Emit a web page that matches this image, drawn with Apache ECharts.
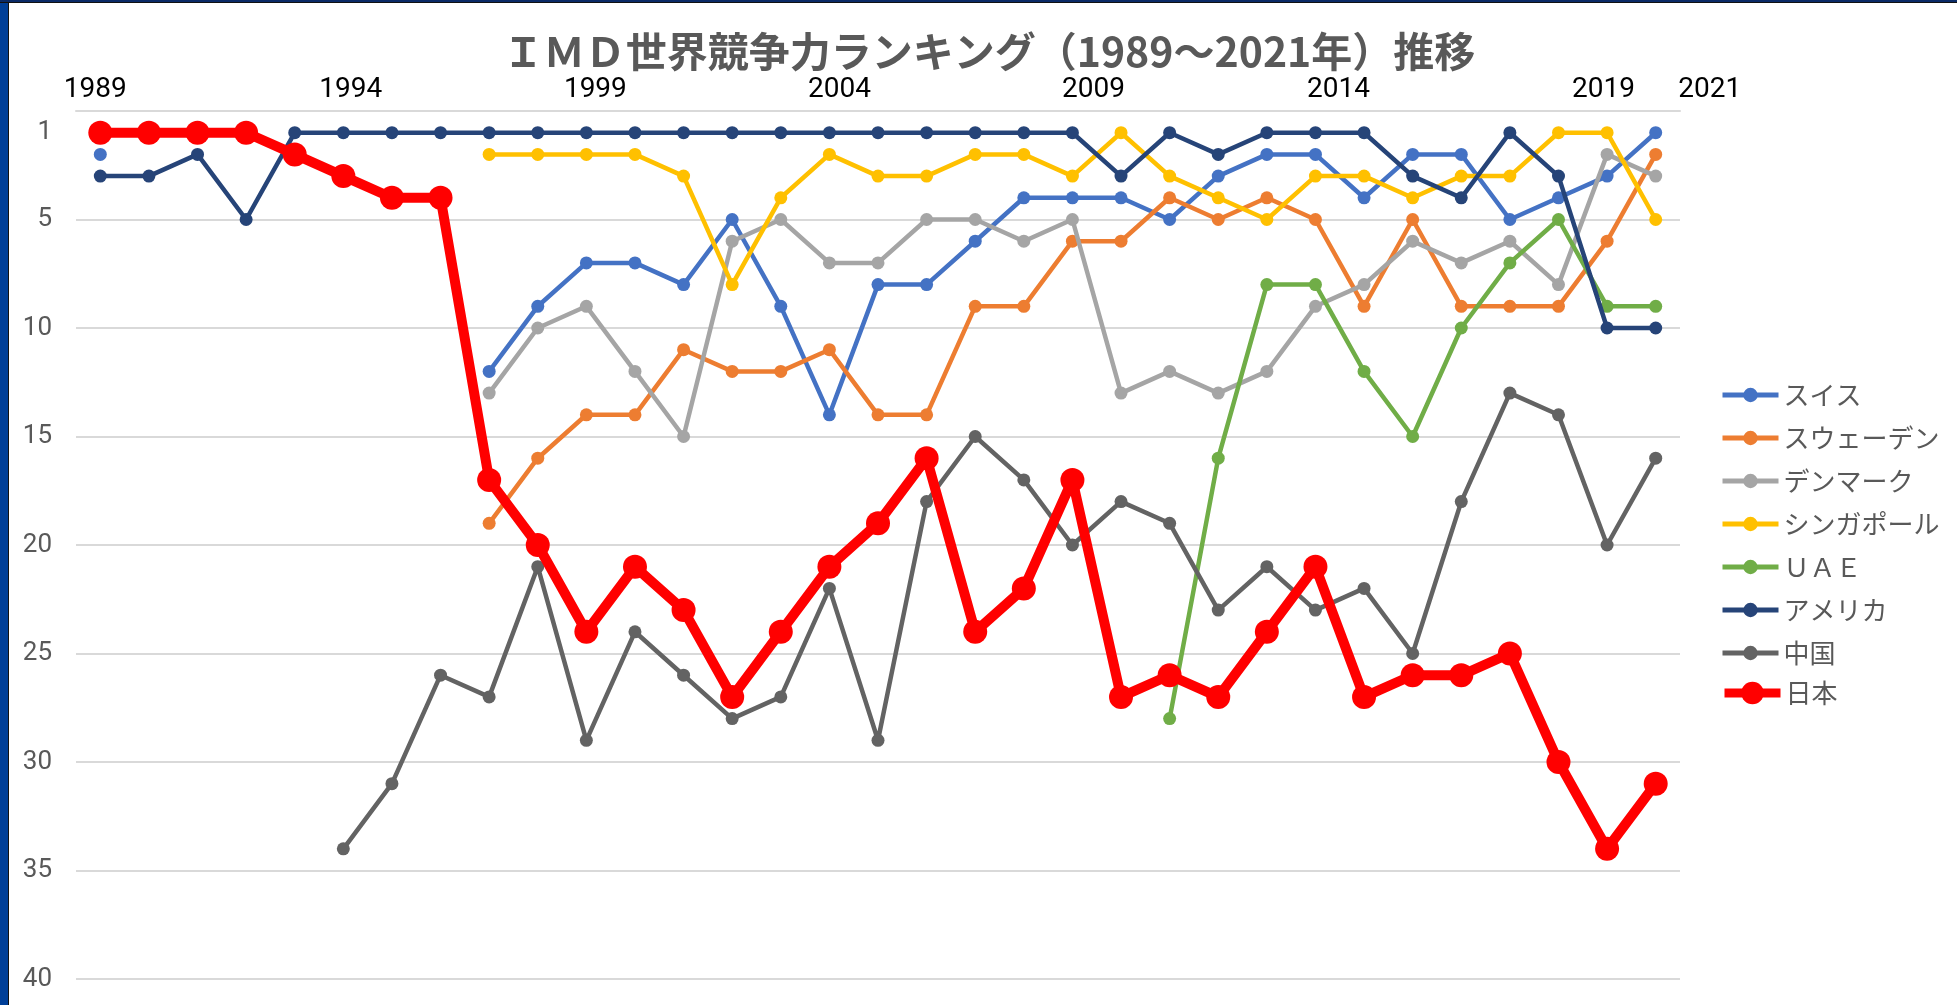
<!DOCTYPE html>
<html><head><meta charset="utf-8">
<script src="https://cdn.jsdelivr.net/npm/echarts@6/dist/echarts.min.js"></script>
<style>
html,body{margin:0;padding:0;background:#fff;width:1957px;height:1005px;overflow:hidden;}
#chart{position:absolute;left:0;top:0;width:1957px;height:1005px;}
#bl{position:absolute;left:0;top:0;width:8px;height:1005px;background:#003F98;border-right:1px solid #111;}
#bt{position:absolute;left:0;top:0;width:1957px;height:2px;background:#0a2a66;border-bottom:1px solid #111;}
</style></head>
<body><div id="chart"></div><div id="bl"></div><div id="bt"></div>
<script>
// ---- data ----
const years = ['1989','1990','1991','1992','1993','1994','1995','1996','1997','1998','1999',
  '2000','2001','2002','2003','2004','2005','2006','2007','2008','2009','2010',
  '2011','2012','2013','2014','2015','2016','2017','2018','2019','2020','2021'];
const xTickLabels = ['1989','1994','1999','2004','2009','2014','2019','2021'];
const yTickLabels = [1,5,10,15,20,25,30,35,40];

const swiss     = [2,null,null,null,null,null,null,null,12,9,7,7,8,5,9,14,8,8,6,4,4,4,5,3,2,2,4,2,2,5,4,3,1];
const sweden    = [null,null,null,null,null,null,null,null,19,16,14,14,11,12,12,11,14,14,9,9,6,6,4,5,4,5,9,5,9,9,9,6,2];
const denmark   = [null,null,null,null,null,null,null,null,13,10,9,12,15,6,5,7,7,5,5,6,5,13,12,13,12,9,8,6,7,6,8,2,3];
const singapore = [null,null,null,null,null,null,null,null,2,2,2,2,3,8,4,2,3,3,2,2,3,1,3,4,5,3,3,4,3,3,1,1,5];
const uae       = [null,null,null,null,null,null,null,null,null,null,null,null,null,null,null,null,null,null,null,null,null,null,28,16,8,8,12,15,10,7,5,9,9];
const usa       = [3,3,2,5,1,1,1,1,1,1,1,1,1,1,1,1,1,1,1,1,1,3,1,2,1,1,1,3,4,1,3,10,10];
const china     = [null,null,null,null,null,34,31,26,27,21,29,24,26,28,27,22,29,18,15,17,20,18,19,23,21,23,22,25,18,13,14,20,16];
const japan     = [1,1,1,1,2,3,4,4,17,20,24,21,23,27,24,21,19,16,24,22,17,27,26,27,24,21,27,26,26,25,30,34,31];

const seriesNames = ['スイス','スウェーデン','デンマーク','シンガポール','ＵＡＥ','アメリカ','中国','日本'];
const seriesData  = [swiss, sweden, denmark, singapore, uae, usa, china, japan];
const colors = ['#4472C4','#ED7D31','#A5A5A5','#FFC000','#70AD47','#264478','#636363','#FF0000'];

// ---- chart ----
const CJK = "'Noto Sans CJK JP','Noto Sans',sans-serif";
const labelShift = {'1989':[0,10,0,0],'1994':[0,0,0,15],'1999':[0,0,0,18],'2004':[0,0,0,20],
  '2009':[0,0,0,42],'2014':[0,0,0,46],'2019':[0,0,0,90],'2021':[0,0,0,108]};
const rich = {};
xTickLabels.forEach(function(t){ rich['y'+t] = {padding: labelShift[t], fontSize:28, color:'#000', fontFamily:'Roboto, sans-serif'}; });

const chart = echarts.init(document.getElementById('chart'), null, {renderer:'canvas'});
const series = seriesNames.map(function(name, i){
  const isJP = name === '日本';
  return {
    name: name, type:'line', data: seriesData[i],
    symbol:'circle', symbolSize: isJP ? 24 : 13,
    lineStyle:{width: isJP ? 10 : 4.5, color: colors[i]},
    itemStyle:{color: colors[i]},
    connectNulls:false, z: 2 + i,
    emphasis:{disabled:true}, animation:false
  };
});

const legendText = {fontFamily:CJK, fontSize:26, lineHeight:24, color:'#595959'};
chart.setOption({
  animation:false,
  title:{
    text:'ＩＭＤ世界競争力ランキング（1989～2021年）推移',
    left: 984, top: 26, textAlign:'center',
    textStyle:{fontFamily:CJK, fontSize:41, fontWeight:'bold', color:'#595959'}
  },
  grid:{left:76, top:111, width:1604, height:868},
  xAxis:{
    type:'category', position:'top', boundaryGap:true, data: years,
    axisLine:{show:true, lineStyle:{color:'#D9D9D9', width:2}},
    axisTick:{show:false},
    splitLine:{show:false},
    axisLabel:{
      interval: function(idx, val){ return xTickLabels.indexOf(val) >= 0; },
      formatter: function(val){ return '{y'+val+'|'+val+'}'; },
      rich: rich, margin: 7, fontSize:28, color:'#000', fontFamily:'Roboto, sans-serif'
    }
  },
  yAxis:{
    type:'value', inverse:true, min:0, max:40, interval:5,
    axisLine:{show:false}, axisTick:{show:false},
    splitLine:{show:true, lineStyle:{color:'#D9D9D9', width:2}},
    axisLabel:{customValues: yTickLabels, color:'#595959', fontSize:26, margin:24, fontFamily:'Roboto, sans-serif'}
  },
  legend:[
    {data: seriesNames.slice(0,7), orient:'vertical', left:1715, top:377,
     itemWidth:56, itemHeight:18, itemGap:17, lineStyle:{width:5},
     textStyle:legendText, selectedMode:false},
    {data: ['日本'], orient:'vertical', left:1715, top:675,
     itemWidth:56, itemHeight:28, itemGap:0, lineStyle:{width:9},
     textStyle:legendText, selectedMode:false}
  ],
  series: series
});
</script>
</body></html>
